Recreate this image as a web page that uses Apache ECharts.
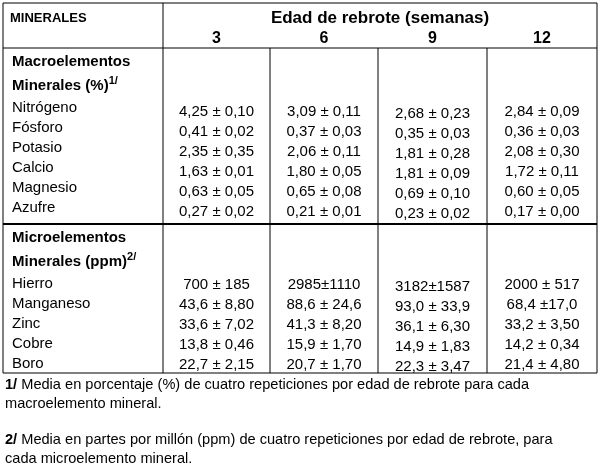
<!DOCTYPE html>
<html><head><meta charset="utf-8">
<script src="https://cdn.jsdelivr.net/npm/echarts@6/dist/echarts.min.js"></script>
<style>html,body{margin:0;background:#fff}#c{width:600px;height:471px}</style>
</head><body><div id="c"></div>
<script>
// datos de la tabla
var semanas = ['3', '6', '9', '12'];
var macroNombres = ['Nitrógeno', 'Fósforo', 'Potasio', 'Calcio', 'Magnesio', 'Azufre'];
var macro3 = ['4,25 ± 0,10', '0,41 ± 0,02', '2,35 ± 0,35', '1,63 ± 0,01', '0,63 ± 0,05', '0,27 ± 0,02'];
var macro6 = ['3,09 ± 0,11', '0,37 ± 0,03', '2,06 ± 0,11', '1,80 ± 0,05', '0,65 ± 0,08', '0,21 ± 0,01'];
var macro9 = ['2,68 ± 0,23', '0,35 ± 0,03', '1,81 ± 0,28', '1,81 ± 0,09', '0,69 ± 0,10', '0,23 ± 0,02'];
var macro12 = ['2,84 ± 0,09', '0,36 ± 0,03', '2,08 ± 0,30', '1,72 ± 0,11', '0,60 ± 0,05', '0,17 ± 0,00'];
var microNombres = ['Hierro', 'Manganeso', 'Zinc', 'Cobre', 'Boro'];
var micro3 = ['700 ± 185', '43,6 ± 8,80', '33,6 ± 7,02', '13,8 ± 0,46', '22,7 ± 2,15'];
var micro6 = ['2985±1110', '88,6 ± 24,6', '41,3 ± 8,20', '15,9 ± 1,70', '20,7 ± 1,70'];
var micro9 = ['3182±1587', '93,0 ± 33,9', '36,1 ± 6,30', '14,9 ± 1,83', '22,3 ± 3,47'];
var micro12 = ['2000 ± 517', '68,4 ±17,0', '33,2 ± 3,50', '14,2 ± 0,34', '21,4 ± 4,80'];
var notas = [
  ['1/', ' Media en porcentaje (%) de cuatro repeticiones por edad de rebrote para cada', 'macroelemento mineral.'],
  ['2/', ' Media en partes por millón (ppm) de cuatro repeticiones por edad de rebrote, para', 'cada microelemento mineral.']
];

var chart = echarts.init(document.getElementById('c'));
var F = 'Liberation Sans, Arial, sans-serif';
var colX = [3, 163, 270, 378, 487, 597];
var g = [];
function txt(x, y, s, opt) {
  opt = opt || {};
  g.push({type: 'text', x: x, y: y, style: {text: s, font: (opt.bold ? 'bold ' : '') + (opt.size || 15) + 'px ' + F,
    fill: '#000', textAlign: opt.align || 'left', textVerticalAlign: 'middle'}});
}
function line(x1, y1, x2, y2, w) {
  g.push({type: 'line', shape: {x1: x1, y1: y1, x2: x2, y2: y2}, style: {stroke: '#000', lineWidth: w || 1}});
}
// bordes
line(3, 3, 597, 3); line(3, 48, 597, 48); line(3, 224, 597, 224, 2); line(3, 373, 597, 373);
[0, 5].forEach(function (i) { line(colX[i], 3, colX[i], 373); });
[1, 2, 3, 4].forEach(function (i) { line(colX[i], 48, colX[i], 373); });
line(163, 3, 163, 48);
// cabecera
txt(10, 18, 'MINERALES', {bold: true, size: 13});
txt(380, 18, 'Edad de rebrote (semanas)', {bold: true, size: 17, align: 'center'});
semanas.forEach(function (s, i) { txt((colX[i + 1] + colX[i + 2]) / 2, 39, s, {bold: true, size: 16, align: 'center'}); });
function seccion(y0, titulo, sub, sup, nombres, cols, yv, off) {
  txt(12, y0, titulo, {bold: true});
  g.push({type: 'text', x: 12, y: y0 + 24, style: {text: '{a|' + sub + '}{s|' + sup + '}', textVerticalAlign: 'middle',
    rich: {a: {font: 'bold 15px ' + F}, s: {font: 'bold 11px ' + F, verticalAlign: 'top', padding: [0, 0, 10, 0]}}}});
  nombres.forEach(function (n, r) {
    txt(12, yv + r * 20, n);
    cols.forEach(function (c, i) { txt((colX[i + 1] + colX[i + 2]) / 2, yv + off + r * 20 + (i == 2 ? 2 : 0), c[r], {align: 'center'}); });
  });
}
seccion(62, 'Macroelementos', 'Minerales (%)', '1/', macroNombres, [macro3, macro6, macro9, macro12], 108, 4);
seccion(238, 'Microelementos', 'Minerales (ppm)', '2/', microNombres, [micro3, micro6, micro9, micro12], 284, 1);
// notas
notas.forEach(function (n, i) {
  var y = 385 + i * 55;
  g.push({type: 'text', x: 5, y: y, style: {text: '{b|' + n[0] + '}{a|' + n[1] + '}', textVerticalAlign: 'middle',
    rich: {a: {font: '14.6px ' + F}, b: {font: 'bold 14.6px ' + F}}}});
  txt(5, y + 19, n[2], {size: 14.6});
});
chart.setOption({animation: false, graphic: g});
</script></body></html>
